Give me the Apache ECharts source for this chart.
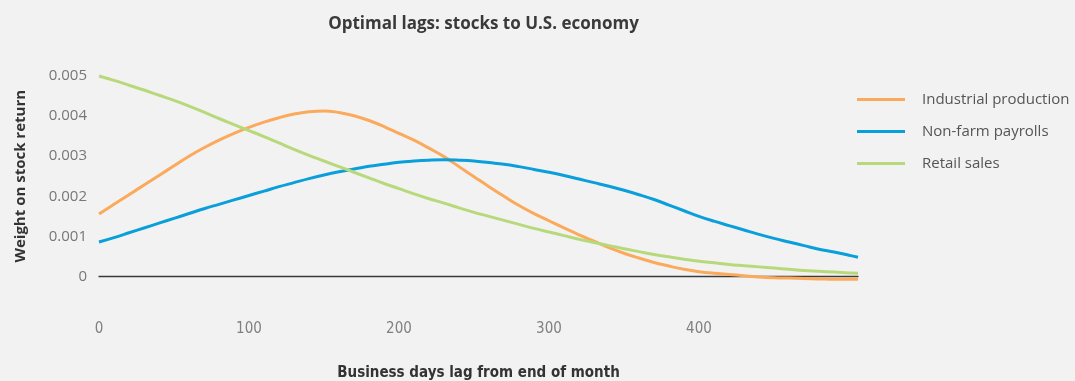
<!DOCTYPE html>
<html>
<head>
<meta charset="utf-8">
<script src="https://cdn.jsdelivr.net/npm/echarts@6/dist/echarts.min.js"></script>
<style>
html,body{margin:0;padding:0;background:#f2f2f2;}
#chart{width:1075px;height:381px;}
</style>
</head>
<body>
<div id="chart"></div>
<script>
const lagDays = [0,10,20,30,40,50,60,70,80,90,100,110,120,130,140,150,160,170,180,190,200,210,220,230,240,250,260,270,280,290,300,310,320,330,340,350,360,370,380,390,400,410,420,430,440,450,460,470,480,490,500,506];
const industrialProduction = [0.00156,0.0018,0.00204,0.00228,0.00252,0.00276,0.003,0.00321,0.0034,0.00357,0.00372,0.00385,0.00396,0.00405,0.00411,0.00413,0.00409,0.00401,0.00389,0.00374,0.00357,0.0034,0.0032,0.00299,0.00274,0.00249,0.00224,0.002,0.00177,0.00157,0.00139,0.00121,0.00104,0.00088,0.00072,0.00058,0.00046,0.00035,0.00026,0.00018,0.00012,0.00008,0.00005,0.00002,-0.00001,-0.00003,-0.00004,-0.00005,-0.00006,-0.00007,-0.00007,-0.00007];
const nonFarmPayrolls = [0.00086,0.00097,0.00109,0.00121,0.00133,0.00145,0.00157,0.00169,0.0018,0.00191,0.00202,0.00213,0.00224,0.00234,0.00244,0.00253,0.00261,0.00268,0.00275,0.0028,0.00285,0.00288,0.0029,0.00291,0.0029,0.00288,0.00284,0.0028,0.00274,0.00267,0.0026,0.00252,0.00243,0.00234,0.00225,0.00215,0.00204,0.00192,0.00178,0.00164,0.0015,0.00138,0.00127,0.00116,0.00105,0.00095,0.00086,0.00077,0.00068,0.00061,0.00053,0.00048];
const retailSales = [0.005,0.00489,0.00477,0.00465,0.00452,0.00439,0.00425,0.0041,0.00394,0.00379,0.00364,0.00349,0.00333,0.00317,0.00302,0.00288,0.00274,0.0026,0.00246,0.00232,0.00219,0.00206,0.00194,0.00183,0.00171,0.0016,0.0015,0.0014,0.0013,0.0012,0.00111,0.00102,0.00093,0.00085,0.00077,0.00069,0.00062,0.00055,0.00049,0.00043,0.00038,0.00034,0.0003,0.00027,0.00024,0.00021,0.00018,0.00015,0.00013,0.00011,0.00009,0.00008];
const seriesNames = ['Industrial production','Non-farm payrolls','Retail sales'];
const xTickLabels = ['0','100','200','300','400'];
const yTickLabels = ['0','0.001','0.002','0.003','0.004','0.005'];

const colors = ['#fbaa5c','#0a9fdb','#b8d97b'];
const narrow = "'DejaVu Sans Condensed', 'Roboto Condensed', Roboto, sans-serif";
const pair = arr => lagDays.map((d,i)=>[d,arr[i]]);
const chart = echarts.init(document.getElementById('chart'));
chart.setOption({
  backgroundColor:'#f2f2f2',
  animation:false,
  color:colors,
  title:{
    text:'Optimal lags: stocks to U.S. economy',
    left:478.5, textAlign:'center', top:11,
    textStyle:{fontFamily:'Open Sans',fontWeight:'bold',fontSize:17,color:'#3a3a3a'}
  },
  legend:{
    orient:'vertical', left:852, top:87,
    itemWidth:48, itemHeight:3, itemGap:17,
    icon:'rect',
    data:seriesNames,
    textStyle:{fontFamily:'Open Sans',fontSize:15,color:'#555',padding:[0,0,0,12]}
  },
  grid:{left:99,right:217,top:76,bottom:104.5,containLabel:false,outerBoundsMode:'none'},
  xAxis:{
    type:'value', min:0, max:506, interval:100,
    name:'Business days lag from end of month',
    nameLocation:'middle', nameGap:89,
    nameTextStyle:{fontFamily:narrow,fontWeight:'bold',fontSize:15,color:'#333'},
    axisLine:{show:true,onZero:true,lineStyle:{color:'#3a3a3a',width:1.3}},
    axisTick:{show:false},
    splitLine:{show:false},
    axisLabel:{margin:45,fontFamily:narrow,fontSize:15,color:'#808080',
      formatter:v=>{const s=String(v);return xTickLabels.includes(s)?s:'';}}
  },
  yAxis:{
    type:'value', min:0, max:0.005, interval:0.001,
    name:'Weight on stock return',
    nameLocation:'middle', nameGap:71,
    nameTextStyle:{fontFamily:'Open Sans',fontWeight:'bold',fontSize:15,color:'#333'},
    axisLine:{show:false},
    axisTick:{show:false},
    splitLine:{show:false},
    axisLabel:{margin:12,fontFamily:'Open Sans',fontSize:15,color:'#777',
      formatter:v=>{const i=Math.round(v/0.001);return yTickLabels[i]!==undefined?yTickLabels[i]:'';}}
  },
  series:[industrialProduction,nonFarmPayrolls,retailSales].map((arr,i)=>({
    name:seriesNames[i], type:'line', data:pair(arr), smooth:0.4,
    showSymbol:false, clip:false, lineStyle:{width:3,color:colors[i]}
  }))
});
</script>
</body>
</html>
